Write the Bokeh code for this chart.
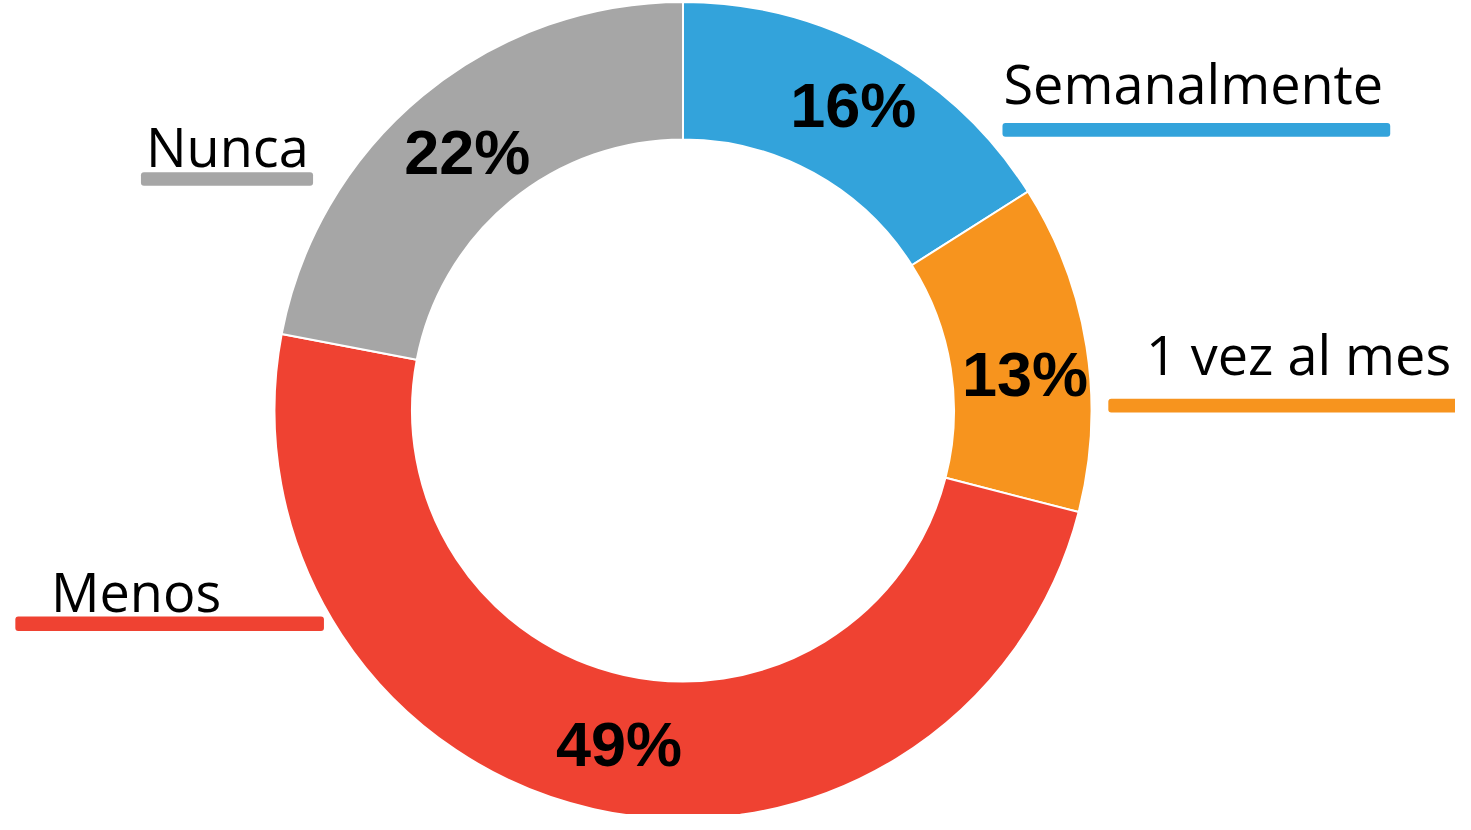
import math
from bokeh.plotting import figure
from bokeh.models import ColumnDataSource, Range1d
from bokeh.core.properties import value
from bokeh.embed import file_html
from bokeh.resources import INLINE

# ---- data ----
categories = ["Semanalmente", "1 vez al mes", "Menos", "Nunca"]
percentages = [16, 13, 49, 22]
colors = ["#33A3DB", "#F7941E", "#EF4232", "#A6A6A6"]

# ---- layout (reference-pixel coordinates; y grows downward) ----
W, H = 1455, 814            # figure size in screen px
REF_W, REF_H = 1471, 830    # coordinate space (reference picture)
cx, cy = 690, 418
r_outer, r_inner = 413, 274
r_label = 347
label_nudge_x = [5, 3, 11, 3]
label_nudge_y = [-7, 17, 1, 4]

cat_text_x = [1014, 1158, 51, 147]
cat_mid_y = [84, 360, 602, 148]
bar_l = [1013, 1120, 15, 142]
bar_r = [1405, 1490, 327, 316]
bar_t = [125, 406, 628, 175]
bar_b = [139, 420, 643, 189]

p = figure(width=W, height=H, output_backend="svg", toolbar_location=None,
           x_range=Range1d(0, REF_W), y_range=Range1d(-REF_H, 0),
           min_border=0, min_border_left=0, min_border_right=0,
           min_border_top=0, min_border_bottom=0)
p.axis.visible = False
p.grid.visible = False
p.outline_line_color = None
p.background_fill_color = "white"
p.border_fill_color = "white"

total = sum(percentages)
starts, ends, lx, ly, labels = [], [], [], [], []
cum = 0.0
for i, v in enumerate(percentages):
    a0 = math.pi / 2 - 2 * math.pi * cum / total
    cum += v
    a1 = math.pi / 2 - 2 * math.pi * cum / total
    starts.append(a0)
    ends.append(a1)
    mid = (a0 + a1) / 2
    lx.append(cx + r_label * math.cos(mid) + label_nudge_x[i])
    ly.append(-(cy - r_label * math.sin(mid) + label_nudge_y[i]))
    labels.append(f"{v}%")

src = ColumnDataSource(dict(start=starts, end=ends, color=colors,
                            lx=lx, ly=ly, label=labels))

p.annular_wedge(x=cx, y=-cy, inner_radius=r_inner, outer_radius=r_outer,
                start_angle="start", end_angle="end", direction="clock",
                fill_color="color", line_color="white", line_width=2,
                source=src)

p.text(x="lx", y="ly", text="label", source=src,
       text_font=value("Liberation Sans"), text_font_style="bold",
       text_font_size="63px", text_color="black",
       text_align="center", text_baseline="middle")

cat_src = ColumnDataSource(dict(
    tx=cat_text_x, ty=[-y for y in cat_mid_y], text=categories,
    l=bar_l, r=bar_r, t=[-y for y in bar_t], b=[-y for y in bar_b],
    color=colors))

p.quad(left="l", right="r", top="t", bottom="b", fill_color="color",
       line_color=None, border_radius=3, source=cat_src)

p.text(x="tx", y="ty", text="text", source=cat_src,
       text_font=value("Open Sans"), text_font_size="54px",
       text_color="black", text_align="left", text_baseline="middle")

open("out.html", "w").write(file_html(p, INLINE))
